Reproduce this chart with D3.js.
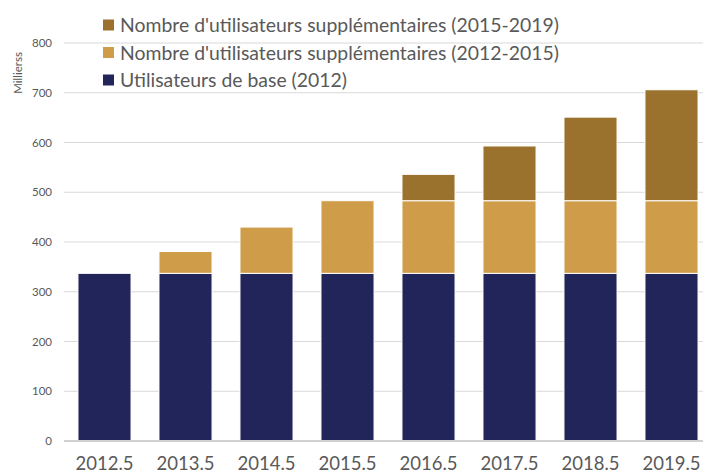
<!DOCTYPE html>
<html>
<head>
<meta charset="utf-8">
<script src="https://cdn.jsdelivr.net/npm/d3@7"></script>
<style>
  body { margin: 0; background: #fff; }
  svg { display: block; font-family: Lato, "Open Sans", sans-serif; }
</style>
</head>
<body>
<svg id="drawing_region"></svg>
<script>
const categories = ["2012.5", "2013.5", "2014.5", "2015.5", "2016.5", "2017.5", "2018.5", "2019.5"];
const base2012 = [337, 337, 337, 337, 337, 337, 337, 337];
const extra2012_2015 = [0, 44, 93, 146, 146, 146, 146, 146];
const extra2015_2019 = [0, 0, 0, 0, 53, 110, 168, 223];
const yTicks = [0, 100, 200, 300, 400, 500, 600, 700, 800];
const seriesNames = [
    "Utilisateurs de base (2012)",
    "Nombre d'utilisateurs supplémentaires (2012-2015)",
    "Nombre d'utilisateurs supplémentaires (2015-2019)"
];
const seriesColors = ["#22255a", "#cf9d4a", "#9a722d"];

const config = {
    width: 703,
    height: 476,
    margin: {top: 43, right: -9, bottom: 35, left: 64}
};

const svg = d3.select('#drawing_region')
    .attr('width', config.width)
    .attr('height', config.height);

const inner_width = config.width - config.margin.left - config.margin.right;
const inner_height = config.height - config.margin.top - config.margin.bottom;

const table = categories.map((c, i) => ({
    cat: c, s0: base2012[i], s1: extra2012_2015[i], s2: extra2015_2019[i]
}));
const stack = d3.stack().keys(["s0", "s1", "s2"])(table);

const xscale = d3.scaleBand()
    .domain(categories)
    .range([0, inner_width])
    .paddingInner(0.345)
    .paddingOuter(0.1725);

const yscale = d3.scaleLinear()
    .domain([0, 800])
    .range([inner_height, 0]);

const chart = svg.append('g')
    .attr('transform', `translate(${config.margin.left}, ${config.margin.top})`);

// gridlines
chart.append('g')
    .selectAll('line')
    .data(yTicks.filter(d => d > 0))
    .join('line')
    .attr('x1', 0)
    .attr('x2', inner_width)
    .attr('y1', d => yscale(d))
    .attr('y2', d => yscale(d))
    .attr('stroke', '#d9d9d9')
    .attr('stroke-width', 1);

// y tick labels
const yaxis = d3.axisLeft(yscale)
    .tickValues(yTicks)
    .tickSize(0)
    .tickPadding(12);
chart.append('g')
    .call(yaxis)
    .call(g => g.select('.domain').remove())
    .selectAll('text')
    .attr('font-family', 'Lato, sans-serif')
    .attr('font-size', '11.5px')
    .attr('fill', '#595959');

// bars
chart.append('g')
    .selectAll('g')
    .data(stack)
    .join('g')
    .attr('fill', (d, i) => seriesColors[i])
    .selectAll('rect')
    .data(d => d.filter(p => p[1] - p[0] > 0))
    .join('rect')
    .attr('x', d => xscale(d.data.cat))
    .attr('width', xscale.bandwidth())
    .attr('y', d => yscale(d[1]))
    .attr('height', d => yscale(d[0]) - yscale(d[1]))
    .attr('stroke', '#ffffff')
    .attr('stroke-width', 1);

// baseline
chart.append('line')
    .attr('x1', 0)
    .attr('x2', inner_width)
    .attr('y1', yscale(0))
    .attr('y2', yscale(0))
    .attr('stroke', '#d0d0d0')
    .attr('stroke-width', 2);

// x labels
const xaxis = d3.axisBottom(xscale)
    .tickSize(0)
    .tickPadding(16);
chart.append('g')
    .attr('transform', `translate(0, ${inner_height})`)
    .call(xaxis)
    .call(g => g.select('.domain').remove())
    .selectAll('text')
    .attr('font-family', 'Lato, sans-serif')
    .attr('font-size', '18.5px')
    .attr('fill', '#595959');

// y title
svg.append('text')
    .attr('transform', 'translate(22, 73) rotate(-90)')
    .attr('text-anchor', 'middle')
    .attr('font-size', '11.5px')
    .attr('fill', '#595959')
    .text('Millierss');

// legend (top to bottom: reversed series order)
const legendItems = [2, 1, 0];
const legend = svg.append('g')
    .selectAll('g')
    .data(legendItems)
    .join('g')
    .attr('transform', (d, i) => `translate(103, ${25 + i * 27.5})`);
legend.append('rect')
    .attr('x', 0)
    .attr('y', -5.5)
    .attr('width', 11)
    .attr('height', 11)
    .attr('fill', d => seriesColors[d]);
legend.append('text')
    .attr('x', 17)
    .attr('y', 7)
    .attr('font-size', '19.4px')
    .attr('fill', '#595959')
    .text(d => seriesNames[d]);
</script>
</body>
</html>
